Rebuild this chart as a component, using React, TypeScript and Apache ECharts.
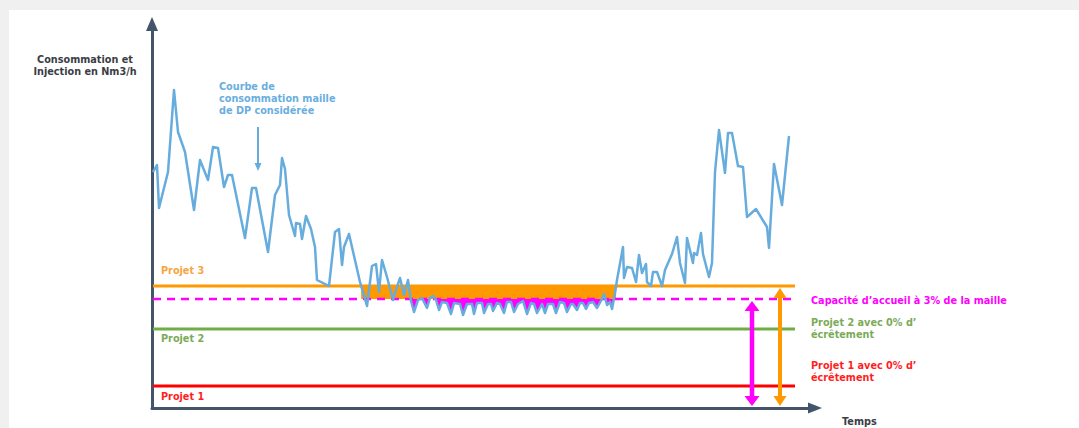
import React, { useEffect, useRef } from "react";
import * as echarts from "echarts";

// ---- data (time steps, Nm3/h) ----
const curveTime = [
  1, 5, 7, 16, 22, 26, 33, 42, 48, 56, 61, 66, 72, 76, 80, 93, 100, 104, 116, 123,
  128, 130, 133, 137, 143, 144, 148, 150, 154, 159, 163, 165, 177, 183, 187, 190, 192, 197, 208, 215,
  220, 224, 227, 230, 235, 241, 243, 248, 252, 256, 259, 262, 266, 270, 275, 278, 281, 284, 287, 290,
  295, 299, 302, 308, 311, 315, 320, 322, 325, 330, 332, 336, 339, 341, 345, 348, 352, 355, 359, 362,
  366, 371, 375, 379, 382, 385, 390, 393, 396, 401, 404, 408, 412, 415, 419, 421, 425, 428, 431, 434,
  437, 441, 445, 450, 452, 455, 458, 460, 463, 465, 471, 472, 475, 480, 484, 487, 490, 494, 495, 499,
  501, 505, 510, 513, 520, 525, 528, 533, 535, 541, 542, 545, 549, 551, 557, 560, 563, 567, 573, 576,
  580, 586, 591, 595, 604, 615, 617, 622, 630, 637,
];
const curveValue = [
  236, 243, 200, 236, 318, 276, 256, 198, 248, 228, 261, 260, 221, 233, 233, 170, 220, 220, 156, 213,
  223, 250, 239, 193, 172, 185, 184, 169, 192, 179, 161, 128, 122, 176, 179, 143, 161, 174, 126, 102,
  142, 144, 116, 148, 131, 108, 115, 130, 113, 128, 107, 96, 108, 110, 100, 110, 112, 108, 98, 106,
  105, 94, 105, 104, 93, 104, 104, 94, 105, 105, 95, 104, 104, 97, 105, 104, 95, 106, 106, 96,
  104, 107, 94, 105, 104, 95, 104, 95, 104, 104, 95, 106, 105, 96, 104, 104, 98, 105, 105, 99,
  105, 106, 100, 109, 114, 103, 106, 99, 115, 128, 161, 130, 141, 140, 126, 153, 135, 144, 126, 122,
  136, 136, 122, 138, 154, 171, 145, 125, 170, 145, 155, 153, 175, 154, 131, 145, 236, 278, 235, 275,
  275, 242, 241, 191, 199, 181, 160, 244, 203, 272,
];

const projet1Level = 22;
const projet2Level = 79;
const capacityLevel = 109;
const projet3Level = 122;

const timeRange = [0, 663];
const valueRange = [0, 384];
const levelLineSpan = [1, 643];
const capacityArrowTime = 600;
const projet3ArrowTime = 628;
const curveNoteTime = 106;

const yTitle = ["Consommation et", "Injection en Nm3/h"];
const curveNote = ["Courbe de", "consommation maille", "de DP considérée"];
const capacityNote = "Capacité d’accueil à 3% de la maille";
const projet2Note = ["Projet 2 avec 0% d’", "écrêtement"];
const projet1Note = ["Projet 1 avec 0% d’", "écrêtement"];
const xTitle = "Temps";

// ---- colours ----
const C = {
  axis: "#44546a",
  curve: "#66acdd",
  orange: "#ff9900",
  orangeText: "#f7a540",
  magenta: "#ff00ff",
  green: "#70ad47",
  greenText: "#7aab58",
  red: "#ff0000",
  redText: "#ff1f1f",
  dark: "#3a3d45",
  blueText: "#6aaee0",
};

const FONT = "'DejaVu Sans', sans-serif";

function fillBelow(ts: number[], vs: number[], level: number) {
  const out: number[][] = [];
  for (let i = 0; i < ts.length; i++) {
    if (i > 0) {
      const v0 = vs[i - 1];
      const v1 = vs[i];
      if ((v0 - level) * (v1 - level) < 0) {
        const t = ts[i - 1] + ((ts[i] - ts[i - 1]) * (level - v0)) / (v1 - v0);
        out.push([t, level]);
      }
    }
    out.push([ts[i], Math.min(vs[i], level)]);
  }
  return out;
}

function crossingSpan(ts: number[], vs: number[], level: number) {
  let first = -1;
  let last = -1;
  for (let i = 0; i < vs.length; i++) {
    if (vs[i] < level) {
      if (first < 0) first = i;
      last = i;
    }
  }
  const a = first - 1;
  const start = ts[a] + ((ts[first] - ts[a]) * (vs[a] - level)) / (vs[a] - vs[first]);
  const b = last + 1;
  const end = ts[last] + ((ts[b] - ts[last]) * (level - vs[last])) / (vs[b] - vs[last]);
  return [start, end];
}

function levelLine(level: number) {
  return [
    [levelLineSpan[0], level],
    [levelLineSpan[1], level],
  ];
}

function doubleArrow(x: number, yTop: number, yBot: number, W: number, L: number, S: number) {
  return [
    [x, yTop],
    [x + W / 2, yTop + L],
    [x + S / 2, yTop + L],
    [x + S / 2, yBot - L],
    [x + W / 2, yBot - L],
    [x, yBot],
    [x - W / 2, yBot - L],
    [x - S / 2, yBot - L],
    [x - S / 2, yTop + L],
    [x - W / 2, yTop + L],
  ];
}

function txt(lines: string | string[], x: number, y: number, fill: string, lineHeight = 12.4, align = "left", size = 9.7) {
  return {
    type: "text",
    x,
    y,
    silent: true,
    style: {
      text: Array.isArray(lines) ? lines.join("\n") : lines,
      fill,
      font: `bold ${size}px ${FONT}`,
      lineHeight,
      align,
      verticalAlign: "middle",
    },
  };
}

export default function App() {
  const ref = useRef<HTMLDivElement>(null);

  useEffect(() => {
    if (!ref.current) return;
    const chart = echarts.init(ref.current, undefined, { renderer: "svg" });
    const span = crossingSpan(curveTime, curveValue, projet3Level);
    const magentaFill = fillBelow(curveTime, curveValue, capacityLevel);

    chart.setOption({
      animation: false,
      grid: { left: 152, right: 264, top: 24, bottom: 20 },
      xAxis: {
        type: "value",
        min: timeRange[0],
        max: timeRange[1],
        axisLine: {
          show: true,
          symbol: ["none", "triangle"],
          symbolSize: [11, 14],
          lineStyle: { color: C.axis, width: 3 },
        },
        axisTick: { show: false },
        axisLabel: { show: false },
        splitLine: { show: false },
      },
      yAxis: {
        type: "value",
        min: valueRange[0],
        max: valueRange[1],
        axisLine: {
          show: true,
          symbol: ["none", "triangle"],
          symbolSize: [12, 14],
          lineStyle: { color: C.axis, width: 3 },
        },
        axisTick: { show: false },
        axisLabel: { show: false },
        splitLine: { show: false },
      },
      series: [
        {
          type: "line",
          data: [
            [span[0], projet3Level],
            [span[1], projet3Level],
          ],
          showSymbol: false,
          lineStyle: { width: 0 },
          areaStyle: { color: C.orange, opacity: 1, origin: capacityLevel },
          silent: true,
          z: 1,
        },
        {
          type: "line",
          data: magentaFill,
          showSymbol: false,
          lineStyle: { width: 0 },
          areaStyle: { color: C.magenta, opacity: 1, origin: capacityLevel },
          silent: true,
          z: 2,
        },
        {
          type: "line",
          data: levelLine(projet1Level),
          showSymbol: false,
          lineStyle: { color: C.red, width: 3 },
          silent: true,
          z: 3,
        },
        {
          type: "line",
          data: levelLine(projet2Level),
          showSymbol: false,
          lineStyle: { color: C.green, width: 3 },
          silent: true,
          z: 3,
        },
        {
          type: "line",
          data: levelLine(projet3Level),
          showSymbol: false,
          lineStyle: { color: C.orange, width: 3 },
          silent: true,
          z: 3,
        },
        {
          type: "line",
          data: levelLine(capacityLevel),
          showSymbol: false,
          lineStyle: { color: C.magenta, width: 2.5, type: [8, 6] },
          silent: true,
          z: 3,
        },
        {
          type: "line",
          data: curveTime.map((t, i) => [t, curveValue[i]]),
          showSymbol: false,
          lineStyle: { color: C.curve, width: 2.5, join: "round" },
          silent: true,
          z: 4,
        },
      ],
    });

    const px = (t: number, v: number) =>
      chart.convertToPixel({ xAxisIndex: 0, yAxisIndex: 0 }, [t, v]) as number[];

    const mTop = px(capacityArrowTime, capacityLevel - 2);
    const mBot = px(capacityArrowTime, 2);
    const oTop = px(projet3ArrowTime, projet3Level - 2);
    const oBot = px(projet3ArrowTime, 2);
    const nTip = px(curveNoteTime, 237);
    const nTail = px(curveNoteTime, 281);

    const elements: any[] = [
      {
        type: "polygon",
        silent: true,
        shape: { points: doubleArrow(mTop[0], mTop[1], mBot[1], 15, 10, 4.5) },
        style: { fill: C.magenta },
        z: 10,
      },
      {
        type: "polygon",
        silent: true,
        shape: { points: doubleArrow(oTop[0], oTop[1], oBot[1], 13, 10, 4) },
        style: { fill: C.orange },
        z: 10,
      },
      {
        type: "line",
        silent: true,
        shape: { x1: nTail[0], y1: nTail[1], x2: nTip[0], y2: nTip[1] - 6 },
        style: { stroke: C.curve, lineWidth: 2 },
        z: 10,
      },
      {
        type: "polygon",
        silent: true,
        shape: {
          points: [
            [nTip[0], nTip[1]],
            [nTip[0] - 3.5, nTip[1] - 8],
            [nTip[0] + 3.5, nTip[1] - 8],
          ],
        },
        style: { fill: C.curve },
        z: 10,
      },
      txt(yTitle, 85, 65.4, C.dark, 12.7, "center"),
      txt(curveNote, 219, 98.2, C.blueText, 12.2),
      txt("Projet 3", 161, 270, C.orangeText),
      txt("Projet 2", 161, 338, C.greenText),
      txt("Projet 1", 161, 396.5, C.redText),
      txt(capacityNote, 811, 300.5, C.magenta),
      txt(projet2Note, 811, 328.8, C.greenText, 12.3),
      txt(projet1Note, 811, 371.8, C.redText, 12.2),
      txt(xTitle, 842, 421, C.dark),
    ];
    chart.setOption({ graphic: { elements } });

    return () => chart.dispose();
  }, []);

  return (
    <div style={{ position: "absolute", left: 0, top: 0, width: 1079, height: 428, background: "#f0f0f0", overflow: "hidden" }}>
      <div style={{ position: "absolute", left: 9, top: 10, width: 1070, height: 418, background: "#ffffff" }} />
      <div ref={ref} style={{ position: "absolute", left: 0, top: 0, width: 1079, height: 428 }} />
    </div>
  );
}
